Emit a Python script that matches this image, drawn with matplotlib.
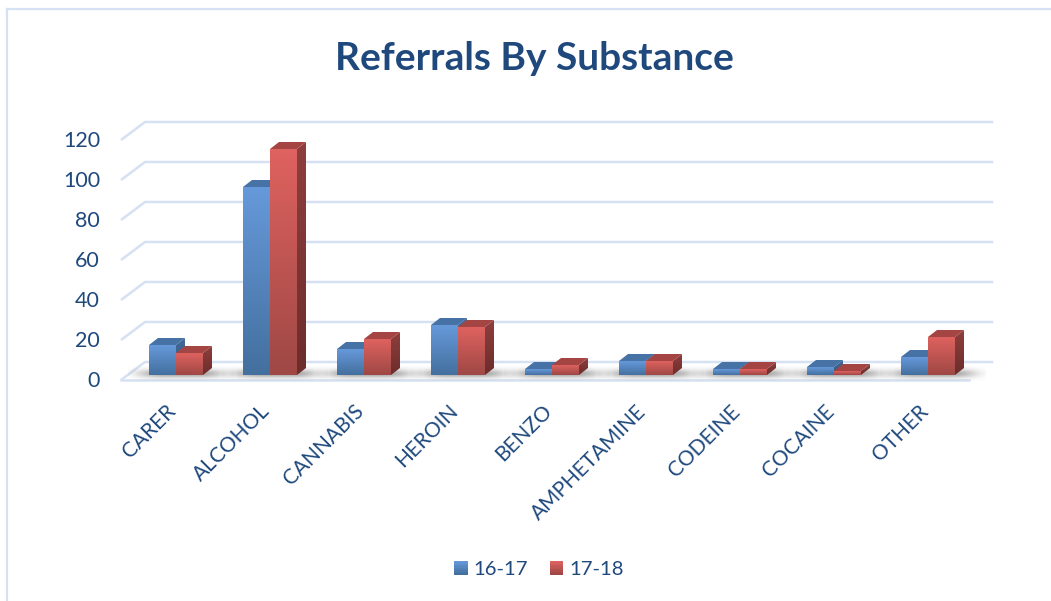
import numpy as np
import matplotlib
matplotlib.use('Agg')
import matplotlib.pyplot as plt
from matplotlib.colors import LinearSegmentedColormap
from matplotlib.legend_handler import HandlerBase
from matplotlib.lines import Line2D
from matplotlib.patches import Polygon, Rectangle

categories = ['CARER', 'ALCOHOL', 'CANNABIS', 'HEROIN', 'BENZO',
              'AMPHETAMINE', 'CODEINE', 'COCAINE', 'OTHER']
values_1617 = [15, 94, 13, 25, 3, 7, 3, 4, 9]
values_1718 = [11, 113, 18, 24, 5, 7, 3, 2, 19]
y_ticks = [0, 20, 40, 60, 80, 100, 120]

plt.rcParams['font.family'] = ['Lato', 'DejaVu Sans']
text_col = '#1F497D'
grid_col = '#D6E2F3'

blue = {'top': '#6699DA', 'bottom': '#44709F', 'cap': '#4672A6',
        'side_top': '#41699A', 'side_bottom': '#36597F'}
red = {'top': '#DE625F', 'bottom': '#9F4845', 'cap': '#A54543',
       'side_top': '#8E3F3D', 'side_bottom': '#6C2D2B'}

# one axes over the whole figure: x in categories, y in chart units
fig = plt.figure(figsize=(10.51, 6.01), dpi=100)
ax = fig.add_axes([0, 0, 1, 1])
ax.axis('off')
xlim = (-176 / 94, (1051 - 176) / 94)
ylim = ((375 - 601) / 2, 375 / 2)

bar_w = 27 / 94
depth_x = 9 / 94
depth_y = 3.5
wall_x = 24 / 94
wall_left = -0.585
wall_right = 8.44


def grad(c1, c2):
    return LinearSegmentedColormap.from_list('g', [c1, c2])


ramp = np.linspace(0, 1, 64).reshape(-1, 1)

# frame
fig.add_artist(Line2D([7 / 1051, 1], [1 - 9 / 601] * 2, color=grid_col, lw=1.6))
fig.add_artist(Line2D([7 / 1051] * 2, [1 - 9 / 601, 0], color=grid_col, lw=1.6))

# floor
ax.add_patch(Polygon([[wall_left, -2.5], [wall_left + wall_x, 6.5],
                      [wall_right + wall_x, 6.5], [wall_right, -2.5]],
                     closed=True, fc='white', ec='none', zorder=0.9))

# gridlines, back wall and left slant
for v in y_ticks:
    y_front = v - 2.5
    y_back = v + 6.5
    ax.plot([wall_left, wall_left + wall_x, wall_right + wall_x],
            [y_front, y_back, y_back], color=grid_col, lw=1.8, zorder=1,
            solid_capstyle='butt')
    ax.text(-76 / 94, v - 3, str(v), ha='right', va='center',
            fontsize=15.5, color=text_col)

ax.plot([wall_left, wall_right], [-2.5, -2.5], color=grid_col, lw=1.8, zorder=1.6)

# soft shadow under each group
xx = np.linspace(-1, 1, 120)
yy = np.linspace(-1, 1, 24)
alpha = np.exp(-(xx / 0.8) ** 4)[None, :] * np.exp(-(yy / 0.6) ** 2)[:, None]
shadow = np.zeros((24, 120, 4))
shadow[..., 0:3] = 0.35
shadow[..., 3] = alpha * 0.55

for i in range(len(categories)):
    ax.imshow(shadow, extent=[i - 0.51, i + 0.61, -3, 4.5], aspect='auto',
              zorder=1.8, interpolation='bilinear')


def draw_bar(x_left, v, col, z):
    x_right = x_left + bar_w
    # side
    side = Polygon([[x_right, 0], [x_right + depth_x, depth_y],
                    [x_right + depth_x, v + depth_y], [x_right, v]],
                   closed=True, fc='none', ec='none', zorder=z)
    ax.add_patch(side)
    im = ax.imshow(ramp, extent=[x_right, x_right + depth_x, 0, v + depth_y],
                   cmap=grad(col['side_top'], col['side_bottom']),
                   aspect='auto', zorder=z)
    im.set_clip_path(side)
    # cap
    ax.add_patch(Polygon([[x_left, v], [x_left + depth_x, v + depth_y],
                          [x_right + depth_x, v + depth_y], [x_right, v]],
                         closed=True, fc=col['cap'], ec='none', zorder=z))
    # front
    front = ax.bar(x_left, v, bar_w, align='edge', color='none', zorder=z + 0.1)[0]
    im = ax.imshow(ramp, extent=[x_left, x_right, 0, v],
                   cmap=grad(col['top'], col['bottom']),
                   aspect='auto', zorder=z + 0.1)
    im.set_clip_path(front)


for i in range(len(categories)):
    draw_bar(i - bar_w, values_1617[i], blue, 2 + i * 0.01)
    draw_bar(i, values_1718[i], red, 2.2 + i * 0.01)
    ax.text(i - 0.11, -13, categories[i], rotation=45, rotation_mode='anchor',
            ha='right', va='top', fontsize=15, color=text_col)

ax.set_xlim(xlim)
ax.set_ylim(ylim)

fig.text(534 / 1051, 1 - 59 / 601, 'Referrals By Substance', ha='center', va='center',
         fontsize=28, fontweight='bold', color=text_col)


class GradHandler(HandlerBase):
    def create_artists(self, legend, orig, x0, y0, width, height, fontsize, trans):
        cols = grad(orig.c1, orig.c2)(np.linspace(0, 1, 10))
        h = width / 10
        return [Rectangle((x0, y0 + height - h * (k + 1)), width, h * 1.1,
                          fc=c, ec='none', transform=trans)
                for k, c in enumerate(cols)]


class Key:
    def __init__(self, c1, c2):
        self.c1 = c1
        self.c2 = c2


leg = fig.legend([Key(blue['top'], blue['bottom']), Key(red['top'], red['bottom'])],
                 ['16-17', '17-18'], ncol=2, frameon=False, fontsize=14.6,
                 labelcolor=text_col, loc='center', bbox_to_anchor=(539 / 1051, 1 - 569 / 601),
                 handler_map={Key: GradHandler()}, handlelength=0.67, handleheight=0.67,
                 handletextpad=0.29, columnspacing=1.05)

fig.savefig('out.png', dpi=100)
